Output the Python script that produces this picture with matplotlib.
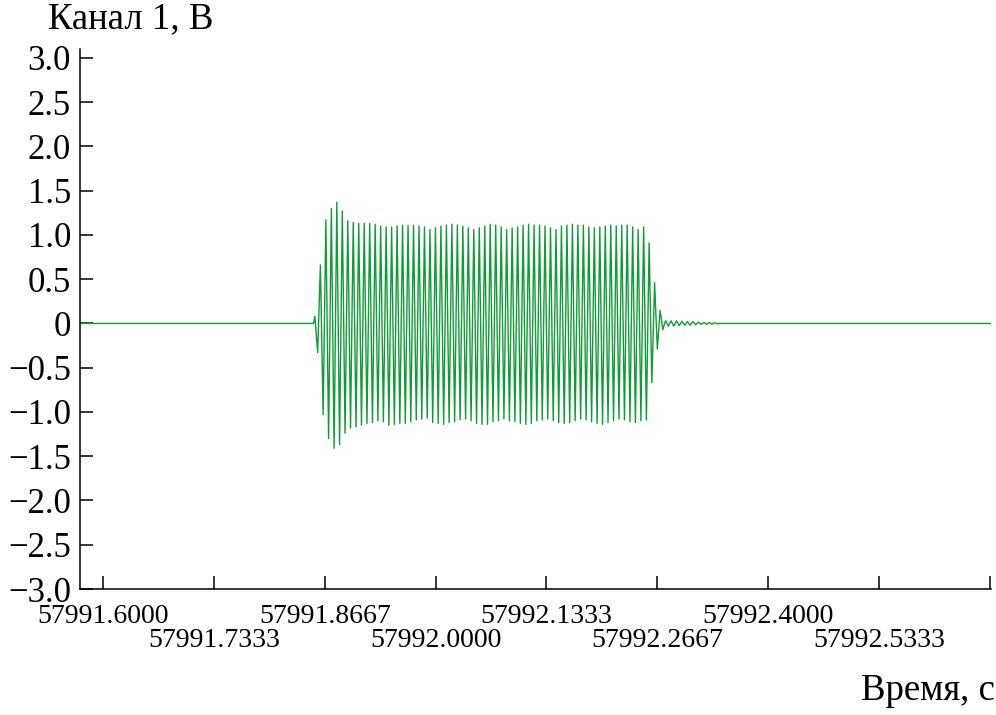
import numpy as np
import matplotlib.pyplot as plt
from matplotlib.ticker import FixedLocator, FixedFormatter

plt.rcParams['font.family'] = ['Liberation Serif', 'DejaVu Serif']

# ось времени
x_min = 57991.5724
x_max = 57992.668
tick_t = [57991.6, 57991.73333, 57991.86667, 57992.0, 57992.13333,
          57992.26667, 57992.4, 57992.53333, 57992.66667]
tick_lbl = ["57991.6000", "57991.7333", "57991.8667", "57992.0000", "57992.1333",
            "57992.2667", "57992.4000", "57992.5333", ""]
y_ticks = [-3.0, -2.5, -2.0, -1.5, -1.0, -0.5, 0.0, 0.5, 1.0, 1.5, 2.0, 2.5, 3.0]

# пачка: первый положительный пик и период (с)
t_first = 57991.8615
period = 0.006589

onset = [0.08, -0.33]
# положительные пики
hi = [0.66,
      1.17, 1.30, 1.37, 1.27, 1.16, 1.14, 1.13, 1.13, 1.13, 1.12,
      1.10, 1.09, 1.09, 1.10, 1.11, 1.11, 1.11, 1.10, 1.09,
      1.06, 1.08, 1.10, 1.11, 1.12, 1.11, 1.10, 1.08, 1.06, 1.08, 1.10,
      1.12, 1.11, 1.09, 1.06, 1.08, 1.09, 1.11, 1.12, 1.11, 1.11, 1.10,
      1.08, 1.06, 1.10, 1.11, 1.12, 1.11, 1.11, 1.09, 1.08, 1.09,
      1.10, 1.11, 1.10, 1.11, 1.11, 1.09, 1.06, 1.09,
      0.91]
# отрицательные пики (после каждого положительного)
lo = [-1.03, -1.30, -1.41, -1.37, -1.24, -1.18, -1.17, -1.15, -1.13, -1.12,
      -1.10, -1.11, -1.15, -1.14, -1.13, -1.13, -1.11, -1.09, -1.08, -1.07,
      -1.12, -1.13, -1.14, -1.12, -1.11, -1.09, -1.08, -1.10, -1.13, -1.14, -1.14,
      -1.11, -1.10, -1.08, -1.10, -1.11, -1.13, -1.14, -1.13, -1.10, -1.09, -1.08,
      -1.10, -1.12, -1.13, -1.12, -1.10, -1.08, -1.09, -1.11, -1.13,
      -1.14, -1.12, -1.10, -1.08, -1.09, -1.11, -1.12, -1.10, -1.09,
      -0.67]
tail = [0.46, -0.29, 0.15, -0.07, 0.03, -0.03, 0.03, -0.03, 0.03, -0.025, 0.025,
        -0.02, 0.02, -0.02, 0.02, -0.015, 0.015, -0.01, 0.01, -0.01, 0.01, -0.008,
        0.008, -0.005]

seq = list(onset)
for a, b in zip(hi, lo):
    seq += [a, b]
seq += tail
seq = np.array(seq)
t = t_first - period + np.arange(len(seq)) * period / 2

tt = np.concatenate([[x_min, t[0] - period / 4], t, [t[-1] + period / 4, x_max]])
vv = np.concatenate([[0, 0], seq, [0, 0]])

fig = plt.figure(figsize=(9.96, 7.15), dpi=100)
ax = fig.add_axes([80 / 996, 1 - 589 / 715, 911 / 996, 540 / 715])
ax.plot(tt, vv, color='#129a38', lw=1.0)

ax.set_xlim(x_min, x_max)
ax.set_ylim(-3.0, 3.1)
ax.spines['top'].set_visible(False)
ax.spines['right'].set_visible(False)
for s in ['left', 'bottom']:
    ax.spines[s].set_linewidth(1.1)

ax.set_yticks(y_ticks)
ax.set_yticklabels(['0' if v == 0 else f'{v:.1f}'.replace('-', '\u2212') for v in y_ticks])
ax.tick_params(axis='y', direction='in', length=9.4, width=1.1, labelsize=25, pad=6.5)

ax.xaxis.set_major_locator(FixedLocator(tick_t[0::2]))
ax.xaxis.set_major_formatter(FixedFormatter(tick_lbl[0::2]))
ax.xaxis.set_minor_locator(FixedLocator(tick_t[1::2]))
ax.xaxis.set_minor_formatter(FixedFormatter(tick_lbl[1::2]))
ax.tick_params(axis='x', which='major', direction='in', length=9.4, width=1.1,
               labelsize=20, pad=11)
ax.tick_params(axis='x', which='minor', direction='in', length=9.4, width=1.1,
               labelsize=20, pad=28)

fig.text(48 / 996, 1 - 28 / 715, 'Канал 1, В', fontsize=26.5, ha='left', va='baseline')
fig.text(995 / 996, 15 / 715, 'Время, с', fontsize=26.5, ha='right', va='baseline')

fig.savefig('out.png', dpi=100)
